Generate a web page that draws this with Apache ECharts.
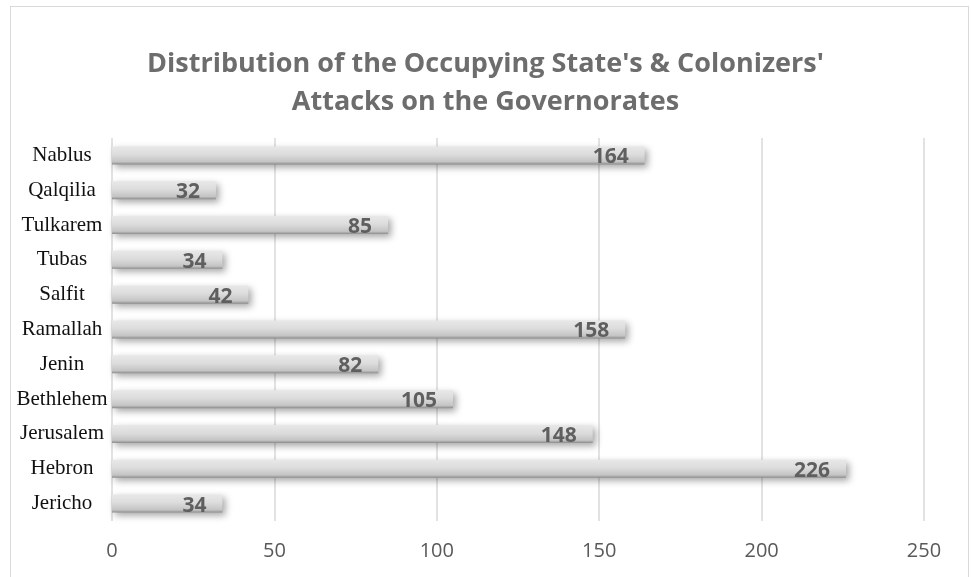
<!DOCTYPE html>
<html>
<head>
<meta charset="utf-8">
<script src="https://cdn.jsdelivr.net/npm/echarts@6/dist/echarts.min.js"></script>
<style>
html,body{margin:0;padding:0;background:#fff;}
#frame{position:absolute;left:10px;top:6px;width:959px;height:580px;border:1.5px solid #d9d9d9;box-sizing:border-box;}
#chart{position:absolute;left:0;top:0;width:971px;height:577px;}
</style>
</head>
<body>
<div id="frame"></div>
<div id="chart"></div>
<script>
const categories = ["Jericho","Hebron","Jerusalem","Bethlehem","Jenin","Ramallah","Salfit","Tubas","Tulkarem","Qalqilia","Nablus"];
const values = [34,226,148,105,82,158,42,34,85,32,164];
const xTicks = [0,50,100,150,200,250];

const chart = echarts.init(document.getElementById('chart'));
chart.setOption({
  animation:false,
  title:{
    text:"Distribution of the Occupying State's & Colonizers'\nAttacks on the Governorates",
    left:'center', top:40,
    textStyle:{fontFamily:'Open Sans', fontSize:27, fontWeight:'bold', color:'#6d6d6d', lineHeight:38}
  },
  grid:{left:112, right:47, top:138, bottom:56},
  xAxis:{
    type:'value', min:xTicks[0], max:xTicks[xTicks.length-1], interval:50,
    axisLine:{show:false}, axisTick:{show:false},
    splitLine:{lineStyle:{color:'#d9d9d9', width:1.5}},
    axisLabel:{fontFamily:'Open Sans', fontSize:20, color:'#595959', margin:20}
  },
  yAxis:{
    type:'category', data:categories,
    axisLine:{show:false}, axisTick:{show:false},
    axisLabel:{fontFamily:'Liberation Serif', fontSize:21, color:'#111', align:'center', margin:50}
  },
  series:[{
    type:'bar', data:values, barWidth:18,
    itemStyle:{
      color:new echarts.graphic.LinearGradient(0,0,0,1,[
        {offset:0,color:'#e8e8e8'},{offset:0.45,color:'#dcdcdc'},{offset:0.85,color:'#c4c4c4'},{offset:1,color:'#8c8c8c'}
      ]),
      shadowColor:'rgba(0,0,0,0.35)', shadowBlur:7, shadowOffsetX:3, shadowOffsetY:3
    },
    label:{show:true, position:'insideRight', distance:16, offset:[0,2],
      fontFamily:'Open Sans', fontSize:21, fontWeight:'bold', color:'#5f5f5f'}
  }]
});
</script>
</body>
</html>
